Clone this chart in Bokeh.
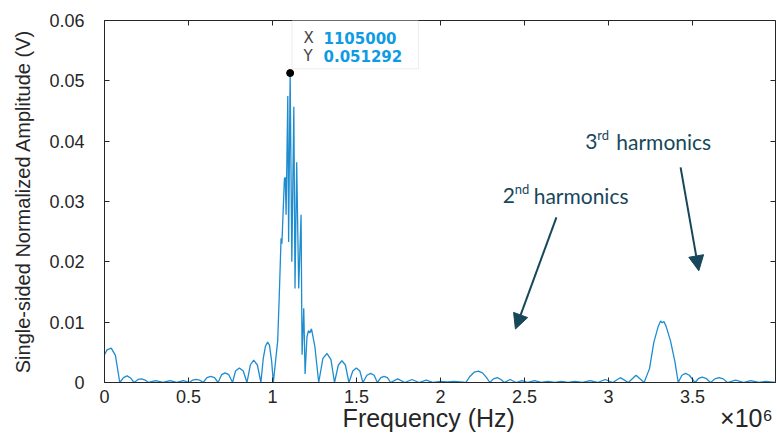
from bokeh.plotting import figure
from bokeh.models import (Range1d, FixedTicker, LinearAxis, Label, BoxAnnotation,
                          Arrow, NormalHead, ColumnDataSource)
from bokeh.embed import file_html
from bokeh.resources import INLINE

# ---------------- data ----------------
freq_mhz = [
    0.000, 0.015, 0.040, 0.065, 0.091, 0.113, 0.135, 0.157, 0.176, 0.200,
    0.220, 0.242, 0.262, 0.305, 0.348, 0.390, 0.430, 0.470, 0.505, 0.525,
    0.545, 0.566, 0.587, 0.610, 0.632, 0.655, 0.676, 0.697, 0.718, 0.740,
    0.762, 0.780, 0.803, 0.826, 0.848, 0.868, 0.888, 0.910, 0.931, 0.945,
    0.958, 0.971, 0.982, 0.995, 1.005,
    1.018, 1.031, 1.041, 1.051, 1.056, 1.061, 1.071, 1.076, 1.081, 1.091,
    1.096, 1.105, 1.115, 1.127, 1.134, 1.144, 1.156, 1.170, 1.176, 1.186,
    1.194, 1.205, 1.214, 1.222, 1.232, 1.252, 1.275,
    1.300, 1.325, 1.348, 1.369, 1.392, 1.413, 1.434, 1.455, 1.478, 1.499,
    1.520, 1.538, 1.562, 1.584, 1.605, 1.624, 1.645, 1.664, 1.684, 1.703,
    1.745, 1.788, 1.830, 1.872, 1.915, 1.957, 2.000, 2.040, 2.080, 2.120,
    2.151, 2.175, 2.200, 2.225, 2.250, 2.272, 2.294, 2.315, 2.338, 2.360,
    2.380, 2.414, 2.450, 2.485, 2.520, 2.560, 2.600, 2.640, 2.680, 2.720,
    2.760, 2.800, 2.845, 2.890, 2.935, 2.980, 3.025, 3.070, 3.118, 3.164,
    3.212, 3.244, 3.270, 3.296, 3.310, 3.319, 3.330, 3.343, 3.369, 3.395,
    3.415, 3.437, 3.459, 3.481, 3.515, 3.537, 3.558, 3.580, 3.608, 3.633,
    3.658, 3.683, 3.708, 3.757, 3.807, 3.847, 3.896, 3.936, 3.994,
]
amplitude = [
    0.0046, 0.0054, 0.0057, 0.0045, 0.0000, 0.0008, 0.0011, 0.0007, 0.0000, 0.0005,
    0.0006, 0.0004, 0.0000, 0.0003, 0.0000, 0.0003, 0.0000, 0.0003, 0.0000, 0.0004,
    0.0005, 0.0004, 0.0000, 0.0008, 0.0010, 0.0008, 0.0000, 0.0013, 0.0016, 0.0013,
    0.0000, 0.0019, 0.0024, 0.0019, 0.0000, 0.0029, 0.0037, 0.0029, 0.0000, 0.0040,
    0.0060, 0.0067, 0.0062, 0.0035, 0.0000,
    0.0035, 0.0069, 0.0150, 0.0239, 0.0230, 0.0267, 0.0338, 0.0340, 0.0278, 0.0475,
    0.0233, 0.0513, 0.0200, 0.0457, 0.0156, 0.0365, 0.0156, 0.0278, 0.0046, 0.0123,
    0.0014, 0.0075, 0.0086, 0.0082, 0.0089, 0.0060, 0.0000,
    0.0040, 0.0048, 0.0038, 0.0000, 0.0029, 0.0036, 0.0029, 0.0000, 0.0019, 0.0024,
    0.0019, 0.0000, 0.0012, 0.0015, 0.0012, 0.0000, 0.0008, 0.0010, 0.0008, 0.0000,
    0.0006, 0.0000, 0.0005, 0.0000, 0.0004, 0.0000, 0.0002, 0.0001, 0.0002, 0.0001,
    0.0000, 0.0010, 0.0017, 0.0019, 0.0016, 0.0009, 0.0000, 0.0006, 0.0008, 0.0005,
    0.0000, 0.0005, 0.0000, 0.0003, 0.0000, 0.0003, 0.0000, 0.0002, 0.0000, 0.0002,
    0.0000, 0.0002, 0.0000, 0.0003, 0.0000, 0.0005, 0.0000, 0.0008, 0.0000, 0.0012,
    0.0000, 0.0023, 0.0067, 0.0093, 0.0102, 0.0099, 0.0101, 0.0093, 0.0069, 0.0035,
    0.0000, 0.0012, 0.0015, 0.0012, 0.0000, 0.0007, 0.0009, 0.0007, 0.0000, 0.0006,
    0.0008, 0.0006, 0.0000, 0.0004, 0.0000, 0.0003, 0.0000, 0.0002, 0.0000,
]

x_ticks_mhz = [0, 0.5, 1, 1.5, 2, 2.5, 3, 3.5]
x_tick_labels = ["0", "0.5", "1", "1.5", "2", "2.5", "3", "3.5"]
y_ticks = [0, 0.01, 0.02, 0.03, 0.04, 0.05, 0.06]
y_tick_labels = ["0", "0.01", "0.02", "0.03", "0.04", "0.05", "0.06"]

x_title = "Frequency (Hz)"
y_title = "Single-sided Normalized Amplitude (V)"
x_exponent = "×10⁶"

tip_x = 1105000
tip_y = 0.051292

harm2_text = ("2", "nd", "harmonics")
harm3_text = ("3", "rd", "harmonics")

# ---------------- figure ----------------
freq_hz = [f * 1e6 for f in freq_mhz]
src = ColumnDataSource(data=dict(freq=freq_hz, amp=amplitude))

AX = "#262626"
FONT = "Liberation Sans"
ANN = "#17475a"

p = figure(width=777, height=437, output_backend="svg", toolbar_location=None,
           x_range=Range1d(0, 3.994e6), y_range=Range1d(0, 0.06),
           min_border_left=104, min_border_right=2, min_border_top=20,
           min_border_bottom=55)
p.background_fill_color = "white"
p.border_fill_color = "white"
p.outline_line_color = AX
p.outline_line_width = 1
p.xgrid.visible = False
p.ygrid.visible = False

xa = p.xaxis[0]
xa.ticker = FixedTicker(ticks=[t * 1e6 for t in x_ticks_mhz])
xa.major_label_overrides = {int(round(t * 1e6)): lab for t, lab in zip(x_ticks_mhz, x_tick_labels)}
xa.major_label_standoff = 7

ya = p.yaxis[0]
ya.ticker = FixedTicker(ticks=y_ticks)
ya.major_label_overrides = {t: lab for t, lab in zip(y_ticks, y_tick_labels)}
ya.axis_label = y_title
ya.major_label_standoff = 20
ya.axis_label_standoff = 12

for ax in (xa, ya):
    ax.axis_line_color = AX
    ax.major_tick_line_color = AX
    ax.major_tick_in = 5
    ax.major_tick_out = 0
    ax.minor_tick_line_color = None
    ax.major_label_text_font = FONT
    ax.major_label_text_font_size = "18px"
    ax.major_label_text_color = AX
    ax.axis_label_text_font = FONT
    ax.axis_label_text_font_style = "normal"
    ax.axis_label_text_color = AX
ya.axis_label_text_font_size = "20px"

# second row below the x axis: axis title (MATLAB places it slightly left of centre) and exponent
title_pos = 1.93e6
exp_pos = 3.821e6
row2 = LinearAxis(ticker=FixedTicker(ticks=[title_pos, exp_pos]),
                  major_label_overrides={title_pos: x_title, exp_pos: x_exponent})
row2.axis_line_color = None
row2.major_tick_line_color = None
row2.minor_tick_line_color = None
row2.major_tick_in = 0
row2.major_tick_out = 0
row2.major_label_standoff = -2
row2.major_label_text_font = FONT
row2.major_label_text_font_size = "25px"
row2.major_label_text_color = AX
p.add_layout(row2, "below")

# mirror ticks on top / right (MATLAB box)
top_ax = LinearAxis(ticker=FixedTicker(ticks=[t * 1e6 for t in x_ticks_mhz]),
                    major_label_overrides={int(round(t * 1e6)): "" for t in x_ticks_mhz})
right_ax = LinearAxis(ticker=FixedTicker(ticks=y_ticks),
                      major_label_overrides={t: "" for t in y_ticks})
for ax in (top_ax, right_ax):
    ax.axis_line_color = None
    ax.major_tick_line_color = AX
    ax.major_tick_in = 5
    ax.major_tick_out = 0
    ax.minor_tick_line_color = None
    ax.major_label_standoff = 0
    ax.major_label_text_font_size = "1px"
p.add_layout(top_ax, "above")
p.add_layout(right_ax, "right")

# spectrum
p.line("freq", "amp", source=src, line_color="#1e8ccf", line_width=1.3)

# data tip
p.add_layout(BoxAnnotation(left=tip_x + 0.011e6, right=1.869e6, top=0.0600, bottom=0.0520,
                           fill_color="white", fill_alpha=1.0,
                           line_color="#c4c4c4", line_width=1, level="overlay"))
p.scatter([tip_x], [tip_y], size=7, color="black")
for lab, val, yy in (("X", str(tip_x), 0.05705), ("Y", f"{tip_y:.6f}", 0.05418)):
    p.add_layout(Label(x=tip_x + 0.0795e6, y=yy, text=lab, text_font="DejaVu Sans",
                       text_font_size="15px", text_color="#444444",
                       text_baseline="middle", level="overlay"))
    p.add_layout(Label(x=tip_x + 0.1985e6, y=yy, text=val, text_font="DejaVu Sans",
                       text_font_size="15px", text_font_style="bold",
                       text_color="#0f9be3", text_baseline="middle", level="overlay"))

# harmonic annotations
def harm_label(x0, y0, parts):
    p.add_layout(Label(x=x0, y=y0, text=parts[0], text_font="Lato", text_font_size="21px",
                       text_color=ANN, text_baseline="middle"))
    p.add_layout(Label(x=x0, y=y0, x_offset=12, y_offset=7, text=parts[1], text_font="Lato",
                       text_font_size="13px", text_color=ANN, text_baseline="middle"))
    p.add_layout(Label(x=x0, y=y0, x_offset=31, text=parts[2], text_font="Lato",
                       text_font_size="21px", text_color=ANN, text_baseline="middle"))

harm_label(2.370e6, 0.03096, harm2_text)
harm_label(2.862e6, 0.03992, harm3_text)

p.add_layout(Arrow(end=NormalHead(size=15, fill_color=ANN, line_color=ANN),
                   x_start=2.690e6, y_start=0.02736, x_end=2.446e6, y_end=0.00886,
                   line_color=ANN, line_width=2))
p.add_layout(Arrow(end=NormalHead(size=15, fill_color=ANN, line_color=ANN),
                   x_start=3.429e6, y_start=0.03566, x_end=3.5375e6, y_end=0.01852,
                   line_color=ANN, line_width=2))

open("out.html", "w").write(file_html(p, INLINE))
